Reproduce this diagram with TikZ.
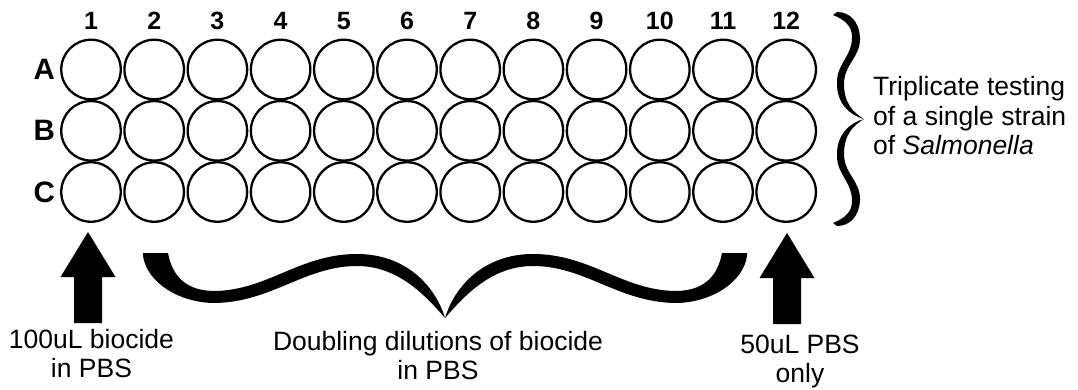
\documentclass[tikz,border=0pt]{standalone}
\usepackage{fontspec}
\setmainfont{Liberation Sans}
\usetikzlibrary{positioning}

\tikzset{
  well/.style={circle, draw, line width=2.3pt, minimum size=59.5pt, inner sep=0pt},
  collabel/.style={font=\fontsize{25}{29}\selectfont\bfseries, inner sep=0pt},
  rowlabel/.style={font=\fontsize{29.5}{33}\selectfont\bfseries, inner sep=0pt},
  caption/.style={font=\fontsize{26.5}{29}\selectfont, align=center, inner sep=0pt, anchor=base},
  sidenote/.style={font=\fontsize{26.5}{29.7}\selectfont, align=left, inner sep=0pt, anchor=base west},
}

\begin{document}
\begin{tikzpicture}[x=1pt, y=-1pt]
  % 1. canvas
  \useasboundingbox (0,0) rectangle (1078,390);

  % 2. wells (3 rows x 12 columns) with row and column labels
  \foreach \row/\ry in {A/69.5, B/130.8, C/192} {
    \foreach \col in {1,...,12} {
      \node[well] (w-\row-\col) at ({91+(\col-1)*63.2}, \ry) {};
    }
    \node[rowlabel, left=5pt of w-\row-1] (r-\row) {\row};
  }
  \foreach \col in {1,...,12}
    \node[collabel, above=9pt of w-A-\col] (c-\col) {\col};

  % 3. block arrows under columns 1 and 12
  \coordinate (tipL) at (88,232);
  \coordinate (tipR) at (787,233);
  \foreach \t in {tipL, tipR}
    \fill (\t) -- ++(27.5,45) -- ++(-13.5,0) -- ++(0,46) -- ++(-28,0)
               -- ++(0,-46) -- ++(-13.5,0) -- cycle;

  % 4. horizontal brace under columns 2-11 (two mirrored halves)
  \foreach \s in {1,-1} {
    \begin{scope}[shift={(445,318)}, xscale=\s]
      \fill (0,0) .. controls (-10,-33) and (-40,-64) .. (-88,-64)
            .. controls (-145,-64) and (-177,-28) .. (-230,-27)
            .. controls (-255,-27) and (-272,-38) .. (-277,-65)
            -- (-302,-65) -- (-302,-62)
            .. controls (-298,-35) and (-265,-15) .. (-230,-15)
            .. controls (-173,-16) and (-140,-52) .. (-88,-52)
            .. controls (-47,-52) and (-20,-23) .. (0,0) -- cycle;
    \end{scope}
  }

  % 5. vertical brace right of column 12 (two mirrored halves)
  \foreach \s in {1,-1} {
    \begin{scope}[shift={(864,119)}, yscale=\s]
      \fill (0,0) .. controls (-10,-6) and (-20,-15) .. (-20,-35)
            .. controls (-20,-55) and (-3,-62) .. (-4,-82)
            .. controls (-5,-97) and (-14,-107) .. (-27,-107)
            -- (-31,-104)
            .. controls (-19,-99) and (-12,-93) .. (-12,-82)
            .. controls (-12,-62) and (-28,-55) .. (-27,-35)
            .. controls (-27,-16) and (-15,-4) .. (0,0) -- cycle;
    \end{scope}
  }

  % 6. texts (anchor = baseline of the last line)
  \node[sidenote] (t-strain) at (873,155) {Triplicate testing\\of a single strain\\of \textit{Salmonella}};
  \node[caption] (t-biocide) at (91.5,377) {100uL biocide\\in PBS};
  \node[caption] (t-dilution) at (438,379) {Doubling dilutions of biocide\\in PBS};
  \node[caption] (t-pbs) at (800,382) {50uL PBS\\only};

\end{tikzpicture}
\end{document}
